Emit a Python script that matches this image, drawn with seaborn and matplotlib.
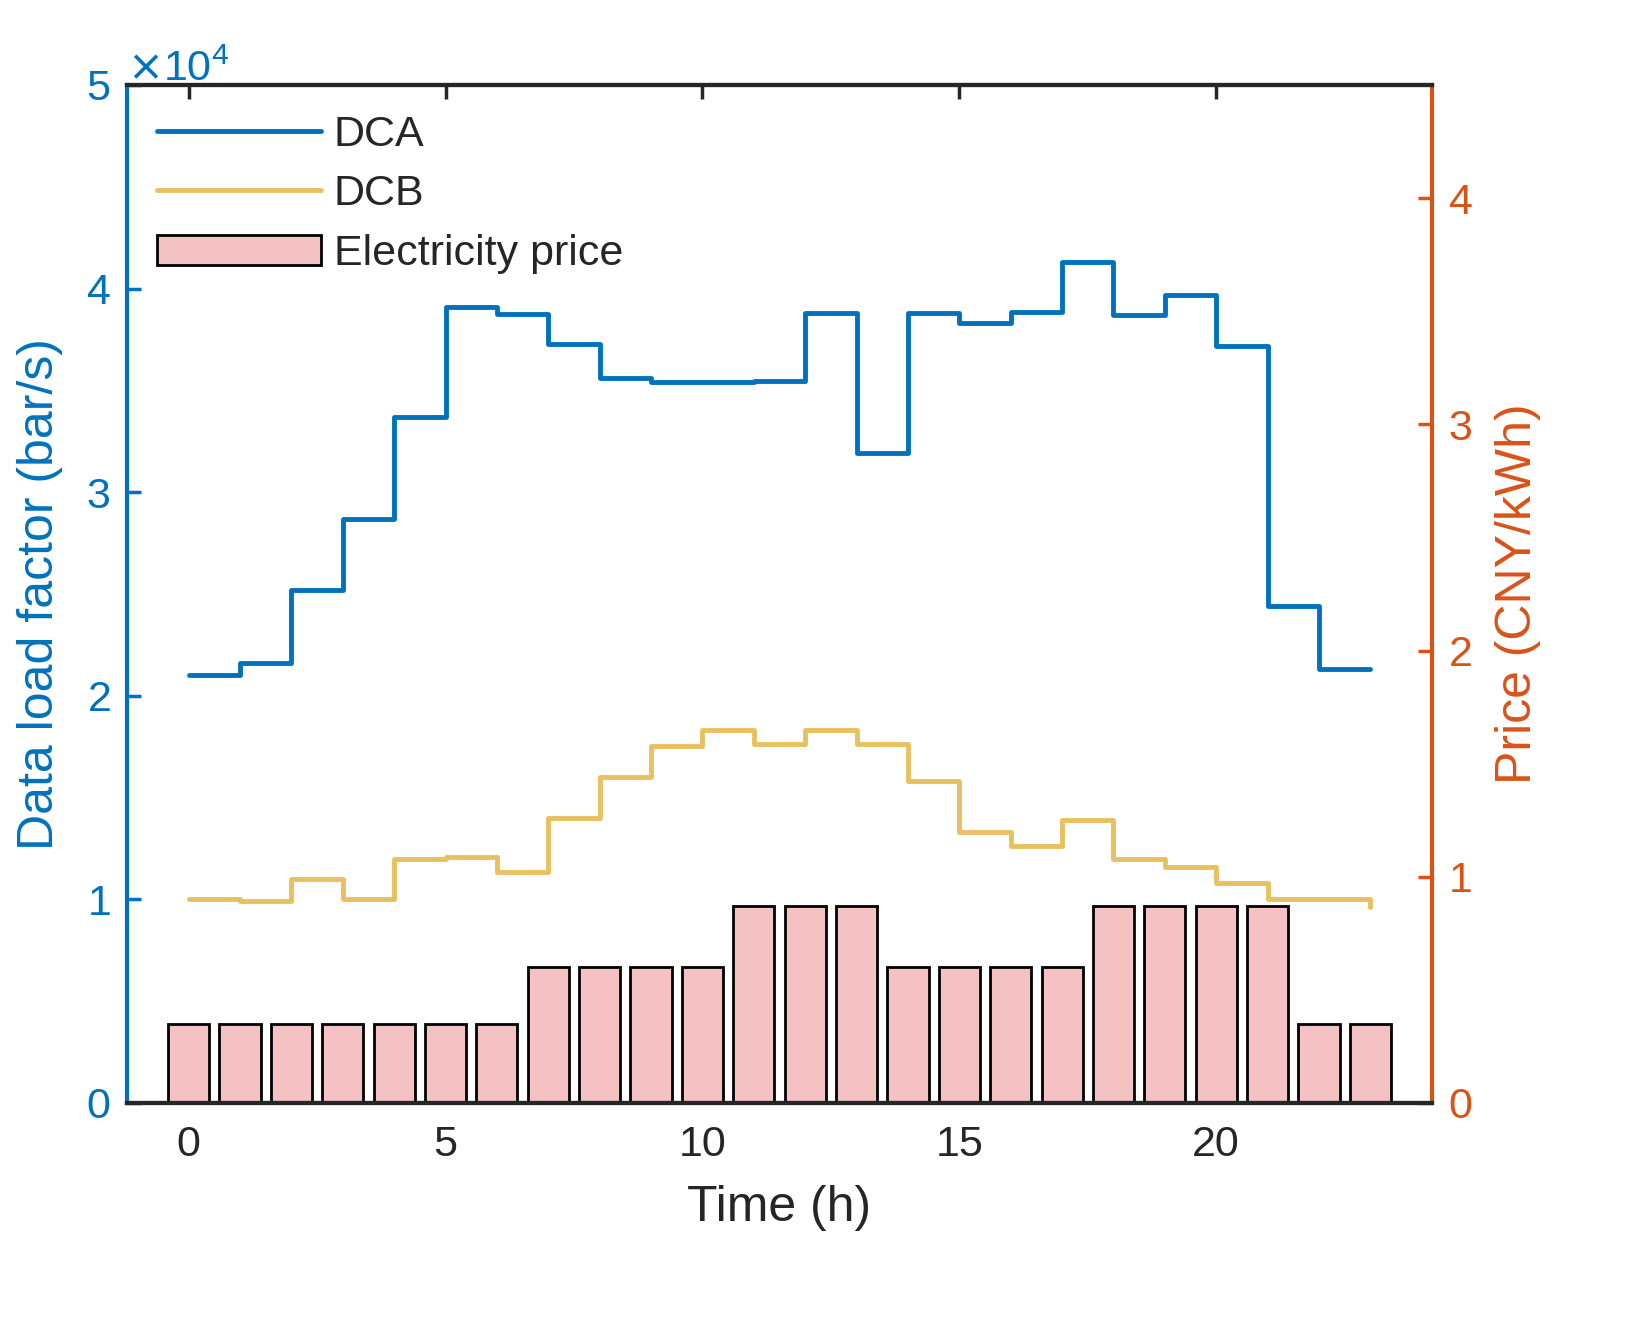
import seaborn as sns
import matplotlib.pyplot as plt
from matplotlib.ticker import ScalarFormatter

hours = list(range(24))
dca = [2.10, 2.16, 2.52, 2.87, 3.37, 3.91, 3.875, 3.73, 3.56, 3.54, 3.54, 3.545,
       3.88, 3.19, 3.88, 3.83, 3.885, 4.13, 3.87, 3.97, 3.72, 2.44, 2.13, 2.13]
dcb = [1.00, 0.99, 1.10, 1.00, 1.20, 1.21, 1.135, 1.40, 1.60, 1.755, 1.83, 1.765,
       1.83, 1.765, 1.58, 1.33, 1.26, 1.39, 1.20, 1.16, 1.08, 1.00, 1.00, 0.96]
dca = [v * 1e4 for v in dca]
dcb = [v * 1e4 for v in dcb]
price = [0.35] * 7 + [0.6] * 4 + [0.87] * 3 + [0.6] * 4 + [0.87] * 4 + [0.35] * 2

blue = '#0072BD'
yellow = '#E8C060'
orange = '#D95319'

sns.set_style('white')
plt.rcParams['font.family'] = 'Liberation Sans'
plt.rcParams['font.size'] = 30

fig = plt.figure(figsize=(16.34, 13.19), dpi=100)
ax = fig.add_axes([0.0777, 0.1638, 0.7987, 0.7718])
ax2 = ax.twinx()
ax.set_zorder(ax2.get_zorder() + 1)
ax.patch.set_visible(False)

sns.barplot(x=hours, y=price, native_scale=True, width=0.8, ax=ax2,
            color='#F4C2C2', edgecolor='black', linewidth=2, saturation=1,
            label='Electricity price')
sns.lineplot(x=hours, y=dca, ax=ax, color=blue, linewidth=3.5,
             drawstyle='steps-post', label='DCA')
sns.lineplot(x=hours, y=dcb, ax=ax, color=yellow, linewidth=3.5,
             drawstyle='steps-post', label='DCB')

ax.set_xlim(-1.2, 24.2)
ax.set_ylim(0, 5e4)
ax2.set_ylim(0, 4.5)
ax.set_xticks([0, 5, 10, 15, 20])
ax.set_yticks([0, 1e4, 2e4, 3e4, 4e4, 5e4])
ax2.set_yticks([0, 1, 2, 3, 4])

fmt = ScalarFormatter(useMathText=True)
fmt.set_powerlimits((0, 0))
ax.yaxis.set_major_formatter(fmt)
ax.yaxis.get_offset_text().set_color(blue)
ax.yaxis.get_offset_text().set_fontsize(31)

ax.set_xlabel('Time (h)', fontsize=36, color='#262626', labelpad=14)
ax.set_ylabel('Data load factor (bar/s)', fontsize=36, color=blue, labelpad=16)
ax2.set_ylabel('Price (CNY/kWh)', fontsize=36, color=orange, labelpad=16)

for a in (ax, ax2):
    for s in a.spines.values():
        s.set_linewidth(3)
    a.tick_params(direction='in', length=10, width=2.5, top=True)
ax.spines['left'].set_color(blue)
ax.spines['right'].set_visible(False)
ax2.spines['right'].set_color(orange)
ax2.spines['left'].set_visible(False)
ax.tick_params(axis='y', colors=blue, labelsize=31, pad=12)
ax.tick_params(axis='x', colors='#262626', labelsize=31, pad=16)
ax2.tick_params(axis='y', colors=orange, right=True, left=False, labelsize=31, pad=12)

h1, l1 = ax.get_legend_handles_labels()
h2, l2 = ax2.get_legend_handles_labels()
ax.legend(h1 + h2, l1 + l2, loc='upper left', frameon=False, fontsize=31,
          handlelength=3.8, handletextpad=0.3, borderaxespad=0.3, labelspacing=0.45)
if ax2.get_legend():
    ax2.get_legend().remove()

fig.savefig('out.png', dpi=100)
